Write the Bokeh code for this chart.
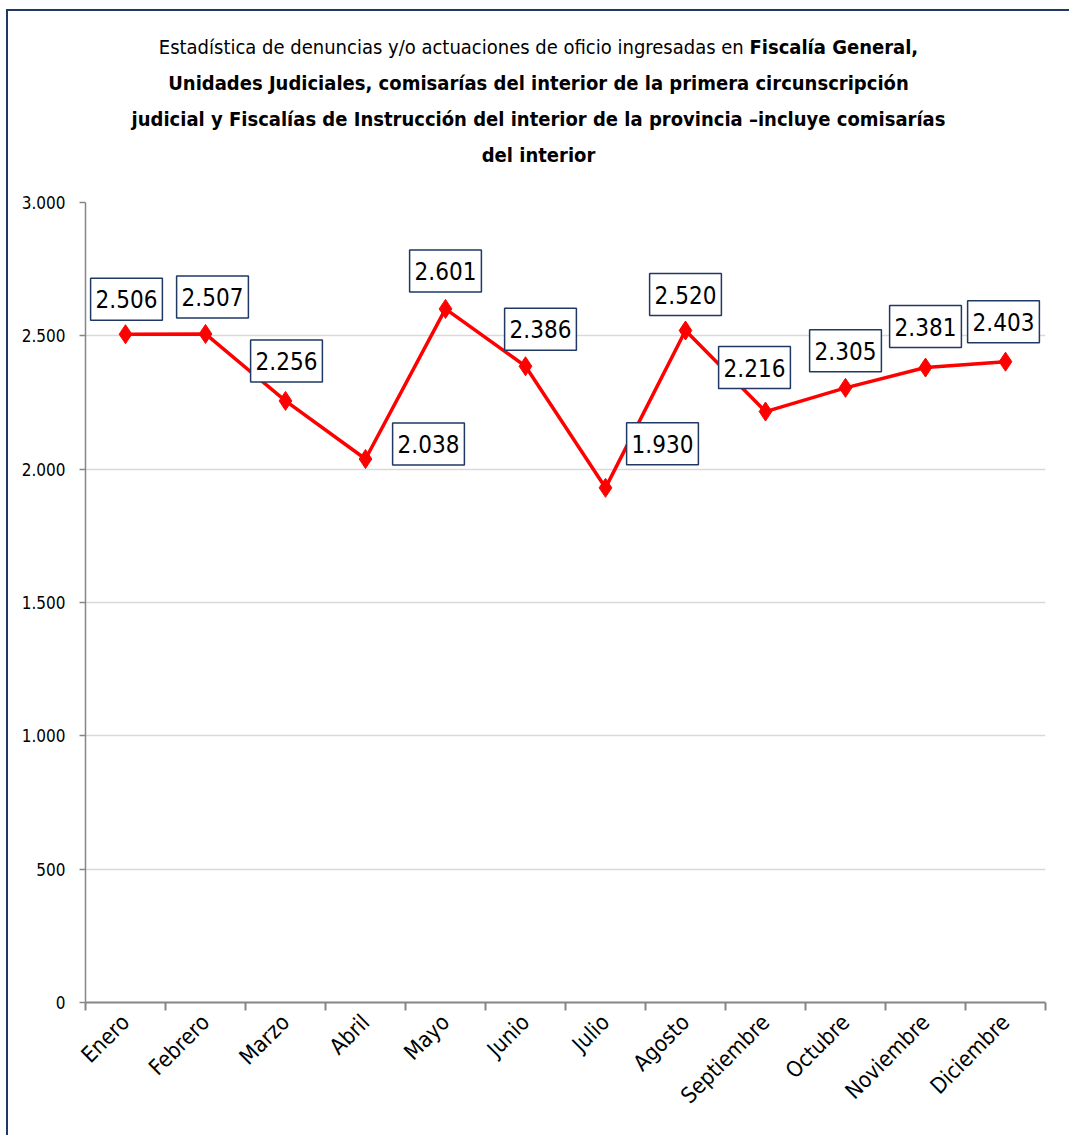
import math
from bokeh.plotting import figure
from bokeh.layouts import column
from bokeh.models import ColumnDataSource, Label, FixedTicker, Range1d, Div
from bokeh.embed import file_html
from bokeh.resources import INLINE

months = ["Enero", "Febrero", "Marzo", "Abril", "Mayo", "Junio", "Julio",
          "Agosto", "Septiembre", "Octubre", "Noviembre", "Diciembre"]
values = [2506, 2507, 2256, 2038, 2601, 2386, 1930, 2520, 2216, 2305, 2381, 2403]
y_ticks = [0, 500, 1000, 1500, 2000, 2500, 3000]

title_normal = "Estadística de denuncias y/o actuaciones de oficio ingresadas en "
title_bold_1 = "Fiscalía General,"
title_bold_lines = [
    "Unidades Judiciales, comisarías del interior de la primera circunscripción",
    "judicial y Fiscalías de Instrucción del interior de la provincia –incluye comisarías",
    "del interior",
]

# label placement offsets (pixels) relative to each point
label_dx = [1, 7, 1, 63, 0, 15, 57, 0, -11, 0, 0, -2]
label_dy = [35, 37, 40, 15, 38, 37, 44, 36, 44, 37, 41, 40]

def fmt(v):
    return f"{v:,}".replace(",", ".")

FONT = "DejaVu Sans Condensed"
NAVY = "#1F3864"
W = 1061
D = 170                       # title block height
H = 1135 - 11 - D             # plot height

xs = [i + 0.5 for i in range(len(months))]
src = ColumnDataSource(dict(x=xs, y=values))

p = figure(width=W, height=H, x_range=Range1d(0, 12), y_range=Range1d(0, 3000),
           output_backend="svg", toolbar_location=None, margin=0,
           min_border_left=77, min_border_right=24, min_border_top=202 - 11 - D,
           min_border_bottom=133)
p.outline_line_color = None
p.background_fill_color = "white"
p.border_fill_color = "white"

p.xgrid.visible = False
p.ygrid.grid_line_color = "#D9D9D9"
p.ygrid.grid_line_width = 1.5

ya = p.yaxis[0]
ya.ticker = FixedTicker(ticks=y_ticks, minor_ticks=[])
ya.major_label_overrides = {t: fmt(t) for t in y_ticks}
ya.axis_line_color = "#868686"
ya.axis_line_width = 1.5
ya.major_tick_line_color = "#868686"
ya.major_tick_line_width = 1.5
ya.major_tick_out = 6
ya.major_tick_in = 0
ya.major_label_standoff = 14
ya.major_label_text_font = FONT
ya.major_label_text_font_size = "17px"
ya.major_label_text_color = "#000000"

xa = p.xaxis[0]
xa.ticker = FixedTicker(ticks=xs, minor_ticks=list(range(13)))
xa.major_label_overrides = {x: m for x, m in zip(xs, months)}
xa.axis_line_color = "#868686"
xa.axis_line_width = 2
xa.major_tick_line_color = None
xa.major_tick_out = 0
xa.major_tick_in = 0
xa.minor_tick_line_color = "#868686"
xa.minor_tick_line_width = 2
xa.minor_tick_out = 8
xa.minor_tick_in = 0
xa.major_label_standoff = 8
xa.major_label_orientation = math.pi / 4
xa.major_label_text_font = FONT
xa.major_label_text_font_size = "22px"
xa.major_label_text_color = "#000000"

p.line("x", "y", source=src, line_color="#FF0000", line_width=3.5)
p.scatter("x", "y", source=src, marker="diamond", size=19, color="#FF0000")

for x, v, dx, dy in zip(xs, values, label_dx, label_dy):
    p.add_layout(Label(x=x, y=v, x_offset=dx, y_offset=dy, text=fmt(v),
                       text_align="center", text_baseline="middle",
                       text_font=FONT, text_font_size="24px", text_color="#000000",
                       background_fill_color="white", border_line_color=NAVY,
                       border_line_width=1.5,
                       padding=dict(left=5, right=5, top=12, bottom=12)))

title_html = (
    f"{title_normal}<b>{title_bold_1}</b><br>" + "<br>".join(f"<b>{t}</b>" for t in title_bold_lines)
)
title = Div(text=title_html, width=W, height=D, margin=0,
            styles={"text-align": "center", "font-family": "'DejaVu Sans Condensed', 'DejaVu Sans'",
                    "font-stretch": "condensed", "font-size": "20px", "line-height": "36px",
                    "color": "#000000", "padding-top": "18px", "box-sizing": "border-box",
                    "background": "white"})

layout = column(title, p, spacing=0, margin=(9, 0, 0, 6),
                styles={"border-left": f"2px solid {NAVY}", "border-top": f"2px solid {NAVY}",
                        "background": "white"})

open("out.html", "w").write(file_html(layout, INLINE))
